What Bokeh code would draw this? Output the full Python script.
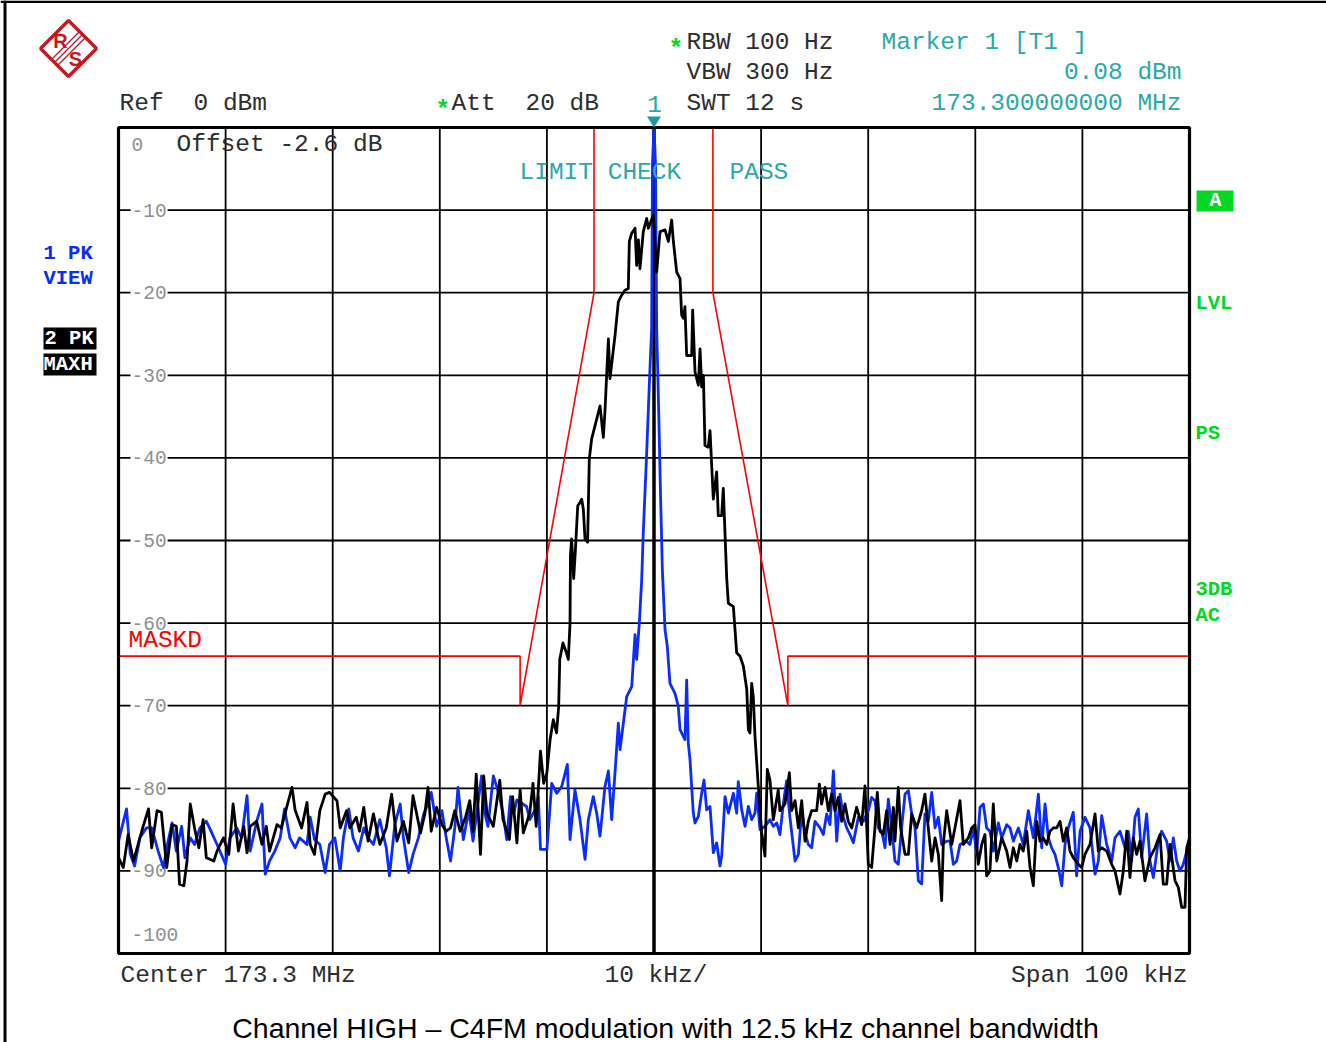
from bokeh.plotting import figure
from bokeh.models import Range1d, Label, PolyAnnotation
from bokeh.core.properties import value
from bokeh.embed import file_html
from bokeh.resources import INLINE

# ---------------------------------------------------------------- data
# frequency offsets from the 173.3 MHz centre, kHz
view_khz = [
    -50.0, -49.25, -48.9, -48.5, -48.0, -47.4, -46.9, -46.3, -45.8, -45.4,
    -45.0, -44.6, -44.1, -43.8, -43.3, -42.9, -42.4, -41.8, -41.5, -40.8,
    -40.0, -39.6, -38.96, -38.5, -38.0, -37.7, -37.1, -36.6, -36.3, -35.9,
    -35.4, -34.9, -34.5, -34.0, -33.5, -33.1, -32.4, -32.1, -31.7, -31.2,
    -30.7, -30.3, -29.8, -29.3, -29.0, -28.5, -28.1, -27.6, -27.1, -26.7,
    -26.2, -25.6, -25.0, -24.7, -24.2, -23.7, -23.4, -22.9, -22.5, -22.0,
    -21.5, -21.1, -20.8, -20.3, -19.8, -19.4, -19.0, -18.6, -18.3, -17.8,
    -17.3, -16.9, -16.4, -16.1, -15.8, -15.5, -15.0, -14.5, -14.1, -13.75,
    -13.4, -13.1, -12.8, -12.35, -11.9, -11.6, -11.1, -10.8, -10.6, -10.0,
    -9.55, -9.08, -8.62, -8.09, -7.84, -7.38, -6.91, -6.44, -6.13, -5.67,
    -5.35, -5.04, -4.58, -4.26, -3.95, -3.64, -3.33, -3.17, -2.86, -2.55,
    -2.08, -1.77, -1.62, -1.37, -1.15, -1.0, -0.68, -0.44, -0.22, -0.14,
    0.0, 0.14, 0.25, 0.45, 0.62, 0.78, 1.03, 1.24, 1.49, 1.96,
    2.27, 2.43, 2.74, 2.89, 3.05, 3.2, 3.36, 3.67, 3.83, 4.14,
    4.45, 4.67, 4.92, 5.23, 5.54, 5.85, 6.16, 6.32, 6.63, 6.94,
    7.41, 7.72, 7.87, 8.19, 8.5, 8.81, 9.12, 9.43, 9.59, 9.9,
    10.36, 10.83, 11.14, 11.46, 11.76, 12.07, 12.38, 12.69, 13.17, 13.48,
    13.79, 14.1, 14.41, 14.72, 15.03, 15.5, 15.81, 16.12, 16.43, 16.75,
    17.06, 17.37, 17.68, 17.99, 18.3, 18.61, 19.08, 19.55, 20.01, 20.32,
    20.63, 20.94, 21.26, 21.57, 21.88, 22.19, 22.5, 22.81, 23.12, 23.44,
    23.75, 24.06, 24.37, 24.68, 24.99, 25.3, 25.61, 25.93, 26.24, 26.55,
    26.86, 27.33, 27.64, 27.95, 28.26, 28.57, 29.19, 29.5, 29.82, 30.13,
    30.44, 30.75, 31.06, 31.37, 31.68, 32.15, 32.47, 32.93, 33.24, 33.55,
    34.02, 34.48, 34.95, 35.42, 35.89, 36.2, 36.51, 36.82, 37.13, 37.44,
    37.75, 38.07, 38.38, 38.69, 39.15, 39.46, 39.78, 40.24, 40.71, 41.18,
    41.49, 41.8, 42.27, 42.74, 43.04, 43.51, 43.98, 44.29, 44.6, 44.91,
    45.22, 45.53, 46.0, 46.31, 46.62, 47.09, 47.4, 47.87, 48.18, 48.49,
    48.8, 49.11, 49.42, 49.74, 50.0,
]
# trace 1, PK / VIEW, dBm
view_dbm = [
    -86.4, -82.5, -88.0, -89.4, -86.0, -84.8, -84.8, -87.6, -89.6, -86.6,
    -84.2, -87.6, -84.6, -88.4, -86.0, -86.8, -84.8, -84.0, -84.8, -86.8,
    -89.2, -86.0, -84.8, -86.0, -80.9, -87.6, -84.0, -81.9, -90.4, -88.8,
    -87.6, -86.0, -82.5, -86.0, -87.2, -86.0, -86.8, -83.5, -86.2, -86.8,
    -90.2, -86.8, -86.0, -90.0, -86.0, -82.5, -86.0, -87.6, -84.8, -86.0,
    -86.8, -83.8, -87.2, -90.6, -84.4, -81.9, -86.0, -90.2, -88.0, -86.0,
    -83.1, -81.9, -80.5, -84.6, -82.7, -86.0, -88.8, -84.8, -79.9, -86.2,
    -82.7, -86.4, -81.5, -78.5, -83.0, -84.6, -78.5, -80.6, -83.0, -86.2,
    -81.0, -83.0, -81.4, -81.8, -82.2, -83.8, -82.6, -81.0, -87.4, -87.4,
    -79.4, -80.6, -79.8, -77.1, -86.2, -80.2, -83.8, -88.6, -83.8, -81.0,
    -83.0, -85.8, -79.8, -77.9, -83.8, -78.1, -72.1, -75.3, -72.1, -68.9,
    -67.7, -61.4, -64.4, -60.0, -54.8, -49.0, -39.3, -31.2, -24.3, -4.4,
    0.08, -4.4, -24.3, -35.0, -45.0, -53.5, -60.8, -62.8, -67.3, -68.5,
    -70.1, -72.9, -73.7, -74.1, -66.9, -74.5, -76.5, -83.0, -84.2, -83.4,
    -80.6, -79.0, -82.6, -82.2, -87.8, -86.6, -89.4, -88.2, -81.0, -83.0,
    -80.6, -83.0, -79.2, -82.6, -84.6, -82.2, -83.8, -83.0, -80.6, -85.0,
    -84.6, -83.8, -84.6, -84.2, -85.6, -81.9, -79.1, -83.5, -88.8, -88.0,
    -82.7, -85.4, -86.8, -87.2, -84.0, -84.8, -85.6, -83.1, -84.4, -77.9,
    -86.4, -80.7, -83.5, -84.8, -85.6, -86.6, -83.5, -84.0, -82.7, -81.1,
    -81.5, -84.8, -85.2, -87.2, -81.3, -84.8, -88.8, -89.2, -84.8, -80.7,
    -80.3, -83.1, -84.8, -91.2, -91.6, -83.1, -84.0, -80.5, -84.8, -83.5,
    -86.8, -86.4, -86.4, -89.2, -88.8, -86.8, -86.4, -86.8, -84.8, -88.0,
    -82.3, -81.9, -84.8, -85.2, -87.6, -84.2, -86.0, -84.4, -84.8, -86.4,
    -84.8, -86.8, -82.7, -86.0, -80.7, -87.2, -81.9, -86.0, -87.2, -88.0,
    -89.6, -91.8, -86.8, -84.8, -82.9, -90.6, -85.2, -83.5, -84.8, -90.4,
    -88.8, -83.3, -86.8, -88.8, -86.0, -85.2, -87.2, -85.2, -88.8, -83.5,
    -82.5, -88.4, -83.1, -88.8, -90.8, -86.4, -85.2, -86.4, -88.8, -86.0,
    -88.8, -90.0, -89.2, -87.6, -86.5,
]

maxh_khz = [
    -50.0, -49.55, -49.1, -48.6, -47.7, -47.2, -46.9, -46.4, -46.0, -45.5,
    -45.0, -44.6, -44.3, -43.9, -43.6, -43.3, -42.9, -42.5, -42.1, -41.8,
    -41.1, -40.8, -40.2, -39.7, -39.3, -38.8, -38.3, -38.0, -37.7, -37.1,
    -36.6, -36.2, -35.9, -35.2, -34.8, -34.3, -33.8, -33.5, -32.9, -32.4,
    -32.1, -31.7, -31.2, -30.7, -30.3, -29.6, -29.3, -28.7, -28.4, -27.8,
    -27.5, -27.1, -26.7, -26.2, -25.6, -25.0, -24.5, -24.0, -23.4, -22.9,
    -22.5, -21.8, -21.4, -21.1, -20.8, -20.3, -19.8, -19.4, -19.0, -18.6,
    -18.1, -17.6, -17.2, -16.9, -16.6, -16.2, -15.9, -15.6, -15.0, -14.4,
    -14.1, -13.5, -13.2, -12.8, -12.5, -12.2, -11.6, -11.3, -11.0, -10.6,
    -10.3, -10.0, -9.7, -9.4, -9.1, -8.9, -8.8, -8.5, -8.2, -8.0,
    -7.84, -7.8, -7.69, -7.5, -7.35, -7.12, -6.91, -6.75, -6.6, -6.44,
    -6.2, -6.04, -5.82, -5.35, -5.04, -4.73, -4.58, -4.42, -4.26, -4.11,
    -3.64, -3.33, -3.02, -2.71, -2.4, -2.3, -2.08, -1.77, -1.62, -1.46,
    -1.31, -1.0, -0.68, -0.53, -0.06, 0.03, 0.25, 0.56, 1.03, 1.34,
    1.65, 1.81, 2.12, 2.43, 2.58, 2.74, 2.89, 3.05, 3.52, 3.61,
    3.83, 4.14, 4.3, 4.45, 4.61, 4.76, 5.07, 5.23, 5.54, 5.85,
    6.0, 6.32, 6.47, 6.79, 6.94, 7.41, 7.72, 8.03, 8.34, 8.66,
    8.81, 8.96, 9.12, 9.27, 9.43, 9.74, 10.06, 10.36, 10.58, 10.83,
    11.14, 11.6, 11.76, 12.23, 12.64, 12.85, 13.17, 13.48, 13.79, 14.1,
    14.41, 14.72, 15.19, 15.44, 15.65, 15.97, 16.28, 16.59, 16.9, 17.21,
    17.52, 17.83, 18.14, 18.46, 18.92, 19.39, 19.7, 20.01, 20.32, 20.63,
    20.85, 21.1, 21.41, 21.72, 22.04, 22.35, 22.5, 22.81, 23.03, 23.44,
    23.75, 24.06, 24.53, 24.99, 25.3, 25.61, 25.93, 26.24, 26.55, 26.86,
    27.01, 27.33, 27.8, 28.1, 28.57, 28.88, 29.35, 29.66, 29.97, 30.28,
    30.6, 30.9, 31.06, 31.37, 31.68, 32.0, 32.47, 32.93, 33.24, 33.55,
    33.87, 34.17, 34.48, 34.8, 35.11, 35.42, 35.73, 36.04, 36.35, 36.67,
    36.97, 37.28, 37.6, 37.91, 38.22, 38.53, 38.84, 39.15, 39.62, 39.93,
    40.24, 40.71, 41.18, 41.49, 41.8, 42.27, 42.74, 43.04, 43.51, 43.82,
    44.14, 44.44, 44.75, 45.07, 45.38, 45.84, 46.31, 46.78, 47.25, 47.55,
    47.87, 48.18, 48.65, 48.96, 49.27, 49.58, 49.74, 50.0,
]
# trace 2, PK / MAXH, dBm
maxh_dbm = [
    -88.4, -89.6, -85.6, -88.8, -84.6, -82.5, -87.2, -82.7, -82.9, -89.6,
    -84.4, -84.6, -91.6, -91.8, -88.8, -81.9, -84.8, -87.2, -83.8, -88.4,
    -88.8, -87.6, -86.0, -88.0, -81.9, -87.6, -84.6, -87.8, -84.6, -84.0,
    -86.8, -84.6, -87.6, -84.4, -84.8, -82.3, -79.9, -82.7, -84.8, -81.7,
    -86.8, -88.0, -82.7, -80.7, -80.5, -81.5, -84.8, -82.7, -84.8, -83.5,
    -85.2, -82.3, -86.4, -83.1, -86.8, -84.8, -80.7, -86.4, -84.0, -86.6,
    -80.9, -85.4, -83.1, -79.9, -85.2, -82.3, -84.4, -85.2, -84.8, -82.7,
    -85.2, -83.5, -81.5, -85.2, -78.3, -88.0, -78.5, -83.0, -84.6, -79.0,
    -83.8, -86.2, -81.0, -86.6, -80.2, -85.4, -83.0, -79.4, -84.6, -75.5,
    -79.4, -78.1, -74.1, -71.7, -73.3, -70.1, -64.4, -62.4, -63.5, -64.4,
    -60.0, -51.8, -49.8, -54.6, -51.4, -45.8, -45.4, -45.0, -46.2, -49.8,
    -50.2, -40.1, -37.7, -35.3, -33.7, -37.5, -34.4, -30.0, -25.6, -30.4,
    -25.2, -21.1, -20.3, -19.7, -19.5, -13.8, -12.8, -12.2, -16.7, -13.6,
    -17.1, -12.6, -11.0, -12.2, -10.6, -12.6, -17.5, -12.6, -12.4, -13.8,
    -11.2, -13.8, -17.5, -18.3, -22.7, -23.1, -21.7, -27.6, -27.6, -22.1,
    -29.6, -31.2, -26.8, -31.4, -30.0, -38.5, -38.7, -36.7, -45.0, -41.7,
    -47.0, -47.0, -43.7, -54.6, -57.6, -58.0, -63.6, -64.0, -65.2, -68.0,
    -72.9, -73.3, -67.3, -68.9, -73.7, -79.8, -85.4, -88.2, -77.7, -79.0,
    -83.8, -80.2, -82.7, -81.9, -78.1, -82.7, -81.5, -84.8, -81.5, -86.4,
    -84.0, -82.7, -82.7, -79.5, -81.9, -79.9, -82.7, -80.7, -82.7, -81.1,
    -84.0, -81.9, -84.0, -84.8, -82.3, -84.4, -79.7, -89.2, -89.6, -84.8,
    -80.5, -85.2, -85.6, -82.7, -86.8, -82.3, -86.4, -79.9, -84.8, -88.0,
    -88.0, -83.1, -84.8, -82.7, -80.7, -84.8, -88.8, -86.0, -88.0, -93.6,
    -86.8, -82.7, -86.8, -84.8, -81.5, -86.8, -86.0, -84.8, -84.4, -89.2,
    -86.8, -85.6, -90.6, -90.0, -81.9, -88.8, -86.0, -87.6, -89.6, -87.2,
    -88.8, -86.8, -87.6, -85.2, -89.6, -91.8, -84.0, -86.4, -86.0, -86.8,
    -85.2, -84.8, -84.8, -84.0, -86.4, -84.8, -87.6, -88.4, -89.2, -89.6,
    -88.0, -86.8, -83.1, -87.6, -87.2, -87.6, -89.2, -90.0, -92.8, -90.0,
    -85.2, -90.8, -86.0, -88.0, -86.4, -91.2, -88.4, -87.2, -85.6, -91.6,
    -91.6, -86.8, -91.2, -92.0, -94.4, -94.4, -87.2, -86.0,
]

# spectrum emission mask (MASKD)
mask_khz = [-50.0, -12.5, -12.5, -5.6, -5.6, 5.5, 5.5, 12.5, 12.5, 50.0]
mask_dbm = [-64.0, -64.0, -70.0, -20.0, 0.0, 0.0, -20.0, -70.0, -64.0, -64.0]

level_ticks = [0, -10, -20, -30, -40, -50, -60, -70, -80, -90, -100]
freq_grid = [-40, -30, -20, -10, 10, 20, 30, 40]
centre_khz = [0]
marker_khz = 0.0

# ---------------------------------------------------------------- layout
W, H = 1326, 1042
FL, FR, FT, FB = 118, 1189, 127, 953          # graticule edges in canvas pixels
X0, X1, Y0, Y1 = -50.0, 50.0, -100.0, 0.0
KPX = (X1 - X0) / (FR - FL)                   # kHz per pixel
DPX = (Y1 - Y0) / (FB - FT)                   # dB per pixel


def sx(px):
    return X0 + (px - FL) * KPX


def sy(py):
    return Y1 - (py - FT) * DPX


MONO = "Liberation Mono"
INK = "#2e2e2e"
TEAL = "#2aa9a9"
GREEN = "#00d824"
BLUE = "#0a2cff"
RED = "#ff0000"
LOGO = "#c8161e"

# the frame spans the whole page; the graticule sits inside it
p = figure(width=W, height=H, x_range=Range1d(sx(0), sx(W)), y_range=Range1d(sy(H), sy(0)),
           x_axis_location=None, y_axis_location=None, toolbar_location=None,
           output_backend="svg", min_border=0)
p.background_fill_color = "white"
p.border_fill_color = "white"
p.outline_line_color = None
p.xgrid.visible = False
p.ygrid.visible = False

# graticule lines
inner_levels = level_ticks[1:-1]
p.segment(x0=freq_grid, x1=freq_grid, y0=[Y0] * len(freq_grid), y1=[Y1] * len(freq_grid),
          line_color="black", line_width=1.8)
p.segment(x0=[X0] * len(inner_levels), x1=[X1] * len(inner_levels), y0=inner_levels,
          y1=inner_levels, line_color="black", line_width=1.8)
p.segment(x0=centre_khz, x1=centre_khz, y0=[Y0], y1=[Y1], line_color="black", line_width=3.5)

# level scale printed inside the graticule
lvl_off = [17 if v == 0 else (-19 if v == -100 else 0) for v in level_ticks]
p.text(x=[X0] * len(level_ticks), y=level_ticks, text=[str(v) for v in level_ticks],
       x_offset=12, y_offset=lvl_off, text_font=value(MONO), text_font_size="19.5px",
       text_color="#8f8f8f", text_baseline="middle", text_align="left",
       background_fill_color="white", padding=1)

# mask and traces
p.line(mask_khz, mask_dbm, line_color=RED, line_width=1.6)
p.line(view_khz, view_dbm, line_color=BLUE, line_width=2.8, line_join="round")
p.line(maxh_khz, maxh_dbm, line_color="black", line_width=2.8, line_join="round")

# graticule border
p.quad(left=[X0], right=[X1], bottom=[Y0], top=[Y1], fill_color=None,
       line_color="black", line_width=3.2)


def put(txt, px, py, color=INK, size="24.5px", align="left", bold=False, font=MONO):
    p.add_layout(Label(x=sx(px), y=sy(py), text=txt, text_color=color, text_font=font,
                       text_font_size=size, text_align=align, text_baseline="middle",
                       text_font_style="bold" if bold else "normal"))


def poly(xs_px, ys_px, fill=None, line=None, lw=1.0):
    p.add_layout(PolyAnnotation(xs=[sx(v) for v in xs_px], ys=[sy(v) for v in ys_px],
                                fill_color=fill, fill_alpha=1.0 if fill else 0.0,
                                line_color=line, line_width=lw, line_alpha=1.0 if line else 0.0))


# header
put("Ref", 119, 103)
put("0 dBm", 193, 103)
put("*", 435, 110, color=GREEN, bold=True)
put("Att", 451, 103)
put("20 dB", 525, 103)
put("1", 654, 103, color=TEAL, align="center")
put("SWT 12 s", 686, 103)
put("*", 668, 49, color=GREEN, bold=True)
put("RBW 100 Hz", 686, 42)
put("VBW 300 Hz", 686, 72)
put("Marker 1 [T1 ]", 881, 42, color=TEAL)
put("0.08 dBm", 1181, 72, color=TEAL, align="right")
put("173.300000000 MHz", 1181, 103, color=TEAL, align="right")

# marker symbol on top of the graticule
mx = FL + (marker_khz - X0) / KPX
poly([mx - 7, mx + 7, mx], [116, 116, 127], fill="#1d9b9b")

# inside the graticule
put("Offset -2.6 dB", 176, 144)
put("LIMIT CHECK", 519, 172, color=TEAL)
put("PASS", 729, 172, color=TEAL)
put("MASKD", 128, 640, color=RED)

# trace info, left
put("1 PK", 43, 253, color=BLUE, size="20.5px", bold=True)
put("VIEW", 43, 278, color=BLUE, size="20.5px", bold=True)
poly([43, 96, 96, 43], [327, 327, 349, 349], fill="black")
poly([43, 96, 96, 43], [353, 353, 375, 375], fill="black")
put("2 PK", 44, 338, color="white", size="20.5px", bold=True)
put("MAXH", 43, 364, color="white", size="20.5px", bold=True)

# status, right
poly([1196, 1233, 1233, 1196], [190, 190, 211, 211], fill=GREEN)
put("A", 1215, 200, color="white", size="20.5px", bold=True, align="center")
put("LVL", 1195, 303, color=GREEN, size="20.5px", bold=True)
put("PS", 1195, 433, color=GREEN, size="20.5px", bold=True)
put("3DB", 1195, 589, color=GREEN, size="20.5px", bold=True)
put("AC", 1195, 615, color=GREEN, size="20.5px", bold=True)

# footer
put("Center 173.3 MHz", 120, 975)
put("10 kHz/", 604, 975)
put("Span 100 kHz", 1187, 975, align="right")
put("Channel HIGH \u2013 C4FM modulation with 12.5 kHz channel bandwidth", 665, 1027,
    color="black", size="28.5px", align="center", font="Liberation Sans")

# Rohde & Schwarz logo
poly([68, 96, 68, 40], [20, 48, 76, 48], line=LOGO, lw=3.2)
for o in (-3.0, 0.0, 3.0):
    poly([82 + o, 54 + o], [34 + o, 62 + o], line=LOGO, lw=1.3)
put("R", 60, 40, color=LOGO, size="20px", align="center", bold=True, font="Liberation Sans")
put("S", 75, 58, color=LOGO, size="20px", align="center", bold=True, font="Liberation Sans")

# page frame
poly([3, 6, 6, 3], [0, 0, H, H], fill="black")
poly([0, W, W, 0], [0, 0, 2.5, 2.5], fill="black")

open("out.html", "w").write(file_html(p, INLINE))
